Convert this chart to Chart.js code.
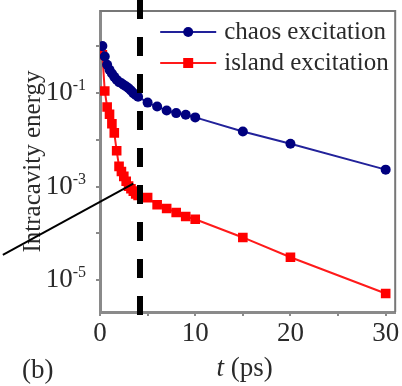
<!DOCTYPE html>
<html>
<head>
<meta charset="utf-8">
<script src="https://cdn.jsdelivr.net/npm/chart.js@4.4.0/dist/chart.umd.min.js"></script>
<style>
    html, body { margin: 0; padding: 0; background: #fff; }
</style>
</head>
<body>
<canvas id="energyChart" width="402" height="386"></canvas>
<script>
// DATA
const timeChaos = [0.25, 0.5, 0.75, 1, 1.25, 1.5, 1.75, 2, 2.25, 2.5, 2.75, 3, 3.25, 3.5, 3.75, 4,
                   5, 6, 7, 8, 9, 10, 15, 20, 30];
const energyChaos = [1.0, 0.6, 0.4, 0.31, 0.26, 0.22, 0.19, 0.17, 0.16, 0.148, 0.137, 0.126, 0.112, 0.099, 0.09, 0.083,
                     0.062, 0.051, 0.042, 0.037, 0.034, 0.030, 0.015, 0.0082, 0.0023];
const timeIsland = [0.25, 0.5, 0.75, 1, 1.25, 1.5, 1.75, 2, 2.25, 2.5, 2.75, 3, 3.25, 3.5, 3.75, 4,
                    5, 6, 7, 8, 9, 10, 15, 20, 30];
const energyIsland = [0.65, 0.11, 0.05, 0.035, 0.022, 0.014, 0.0058, 0.0027, 0.0021, 0.00165, 0.0013, 0.00102, 0.0009, 0.0008, 0.0007, 0.00065,
                      0.00058, 0.00041, 0.00034, 0.00028, 0.00023, 0.0002, 0.000082, 0.000031, 0.0000052];
const seriesNames = ['chaos excitation', 'island excitation'];
const xTickValues = [0, 5, 10, 15, 20, 25, 30];
const xLabelled = [0, 10, 20, 30];
const yTickValues = [1e-5, 1e-4, 1e-3, 1e-2, 1e-1, 1];
const yLabelExponents = [-1, -3, -5];
const markerTime = 4.2;                       // dashed vertical line
const pointerLine = [{ x: -10.2, y: 3.5e-5 }, { x: 3.5, y: 1.15e-3 }];

const SERIF = '"Liberation Serif", "Times New Roman", serif';
const TEXT = '#2a2a2a';
const AXIS = '#8a8a8a';

function toPoints(xs, ys) {
    return xs.map((x, i) => ({ x: x, y: ys[i] }));
}

// EXTRA DRAWING: frame, dashed line, pointer, labels, legend
const decorPlugin = {
    id: 'decor',
    afterDatasetsDraw(chart) {
        const ctx = chart.ctx;
        const area = chart.chartArea;
        const xs = chart.scales.x;
        const ys = chart.scales.y;
        ctx.save();

        // top + right frame
        ctx.strokeStyle = '#777';
        ctx.lineWidth = 2;
        ctx.beginPath();
        ctx.moveTo(area.left, area.top);
        ctx.lineTo(area.right, area.top);
        ctx.lineTo(area.right, area.bottom);
        ctx.stroke();

        // dashed marker line
        const mx = xs.getPixelForValue(markerTime);
        ctx.strokeStyle = '#000';
        ctx.lineWidth = 6;
        ctx.setLineDash([19, 18]);
        ctx.beginPath();
        ctx.moveTo(mx, 0);
        ctx.lineTo(mx, area.bottom + 11);
        ctx.stroke();
        ctx.setLineDash([]);

        // pointer line
        ctx.lineWidth = 2;
        ctx.beginPath();
        ctx.moveTo(xs.getPixelForValue(pointerLine[0].x), ys.getPixelForValue(pointerLine[0].y));
        ctx.lineTo(xs.getPixelForValue(pointerLine[1].x), ys.getPixelForValue(pointerLine[1].y));
        ctx.stroke();

        // y tick labels 10^n
        ctx.fillStyle = TEXT;
        ctx.textBaseline = 'middle';
        ctx.textAlign = 'right';
        yLabelExponents.forEach(n => {
            const py = ys.getPixelForValue(Math.pow(10, n));
            const right = area.left - 14;
            ctx.font = '16px ' + SERIF;
            const exp = String(n);
            const ew = ctx.measureText(exp).width;
            ctx.fillText(exp, right, py - 7);
            ctx.font = '27px ' + SERIF;
            ctx.fillText('10', right - ew, py);
        });

        // x title: t (ps)
        ctx.textAlign = 'left';
        ctx.font = 'italic 27px ' + SERIF;
        const tW = ctx.measureText('t').width;
        ctx.font = '27px ' + SERIF;
        const restW = ctx.measureText(' (ps)').width;
        const cx = (area.left + area.right) / 2 - 3;
        const startX = cx - (tW + restW) / 2;
        const ty = area.bottom + 57;
        ctx.font = 'italic 27px ' + SERIF;
        ctx.fillText('t', startX, ty);
        ctx.font = '27px ' + SERIF;
        ctx.fillText(' (ps)', startX + tW, ty);

        // panel label
        ctx.font = '27px ' + SERIF;
        ctx.fillText('(b)', 22, area.bottom + 59);

        // legend
        chart.data.datasets.forEach((ds, i) => {
            const ly = area.top + 21 + i * 31;
            const lx = area.right - 235;
            ctx.strokeStyle = ds.borderColor;
            ctx.lineWidth = 2;
            ctx.beginPath();
            ctx.moveTo(lx, ly);
            ctx.lineTo(lx + 56, ly);
            ctx.stroke();
            ctx.fillStyle = ds.pointBackgroundColor;
            if (ds.pointStyle === 'rect') {
                ctx.fillRect(lx + 28 - 5, ly - 5, 10, 10);
            } else {
                ctx.beginPath();
                ctx.arc(lx + 28, ly, 5, 0, Math.PI * 2);
                ctx.fill();
            }
            ctx.fillStyle = TEXT;
            ctx.font = '25px ' + SERIF;
            ctx.fillText(ds.label, lx + 64, ly);
        });

        ctx.restore();
    }
};

const chart = new Chart(document.getElementById('energyChart'), {
    type: 'line',
    data: {
        datasets: [{
            label: seriesNames[0],
            data: toPoints(timeChaos, energyChaos),
            borderColor: '#22229a',
            borderWidth: 2,
            pointStyle: 'circle',
            pointRadius: 5,
            pointBackgroundColor: '#00007f',
            pointBorderColor: '#00007f',
            pointBorderWidth: 0
        }, {
            label: seriesNames[1],
            data: toPoints(timeIsland, energyIsland),
            borderColor: '#ff1a1a',
            borderWidth: 2,
            pointStyle: 'rect',
            pointRadius: 6.8,
            pointBackgroundColor: '#ff0000',
            pointBorderColor: '#ff0000',
            pointBorderWidth: 0
        }]
    },
    options: {
        responsive: false,
        animation: false,
        layout: { padding: { top: 11, right: 2, left: 0, bottom: 0 } },
        plugins: {
            legend: { display: false },
            tooltip: { enabled: false }
        },
        scales: {
            x: {
                type: 'linear',
                min: 0,
                max: 31,
                afterBuildTicks: s => { s.ticks = xTickValues.map(v => ({ value: v })); },
                afterFit: s => { s.height = 74; },
                ticks: {
                    autoSkip: false,
                    maxRotation: 0,
                    padding: 2,
                    color: TEXT,
                    font: { family: SERIF, size: 27 },
                    callback: v => xLabelled.includes(v) ? String(v) : ''
                },
                grid: { drawOnChartArea: false, drawTicks: true, tickLength: 4, color: AXIS, lineWidth: 2 },
                border: { display: true, color: AXIS, width: 3 }
            },
            y: {
                type: 'logarithmic',
                min: 2.1e-6,
                max: 5.6,
                afterBuildTicks: s => { s.ticks = yTickValues.map(v => ({ value: v })); },
                afterFit: s => { s.width = 100; },
                ticks: { callback: () => '' },
                grid: { drawOnChartArea: false, drawTicks: true, tickLength: 4, color: AXIS, lineWidth: 2 },
                border: { display: true, color: AXIS, width: 3 },
                title: {
                    display: true,
                    text: 'Intracavity energy',
                    color: TEXT,
                    font: { family: SERIF, size: 25 },
                    padding: { top: 18, bottom: 0 }
                }
            }
        }
    },
    plugins: [decorPlugin]
});
</script>
</body>
</html>
